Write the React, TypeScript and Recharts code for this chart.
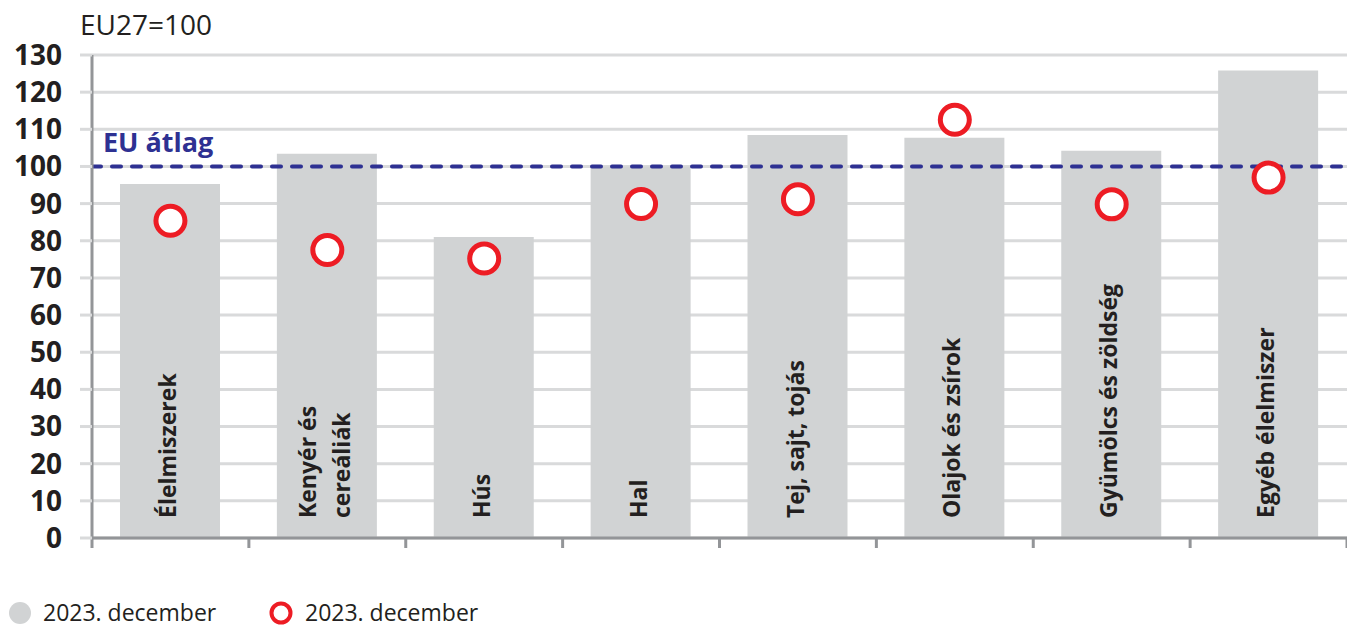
import { ComposedChart, Bar, Scatter, XAxis, YAxis, CartesianGrid, ReferenceLine, LabelList } from 'recharts';

const categories = [
  'Élelmiszerek',
  'Kenyér és\ncereáliák',
  'Hús',
  'Hal',
  'Tej, sajt, tojás',
  'Olajok és zsírok',
  'Gyümölcs és zöldség',
  'Egyéb élelmiszer',
];
const barValues = [95.3, 103.4, 81.0, 100.0, 108.5, 107.7, 104.2, 125.8];
const circleValues = [85.4, 77.5, 75.2, 89.9, 91.2, 112.6, 89.8, 97.0];
const yTicks = [0, 10, 20, 30, 40, 50, 60, 70, 80, 90, 100, 110, 120, 130];
const edgeTicks = [0, 1, 2, 3, 4, 5, 6, 7, 8];
const legendLabels = ['2023. december', '2023. december'];
const unitLabel = 'EU27=100';
const avgLabel = 'EU átlag';

const FONT = '"Open Sans", "Noto Sans", sans-serif';
const TEXT = '#231f20';
const BAR_GREY = '#d1d3d4';
const GRID = '#d9dadb';
const AXIS = '#939598';
const NAVY = '#2e3192';
const RED = '#ed1c24';

// pos = category centre on the 0..8 edge axis (used only for the boundary ticks)
const data = categories.map((name, i) => ({
  name,
  pos: i + 0.5,
  bar: barValues[i],
  circle: circleValues[i],
}));

const CategoryLabel = (props: any) => {
  const { x, y, width, height, value } = props;
  const lines = String(value).split('\n');
  const cx = x + width / 2;
  const bottom = y + height - 20;
  const gap = 34;
  const first = 6 - ((lines.length - 1) * gap) / 2;
  return (
    <text
      transform={`translate(${cx},${bottom}) rotate(-90)`}
      fontFamily={FONT}
      fontSize={23}
      fontWeight={700}
      fill={TEXT}
    >
      {lines.map((l, i) => (
        <tspan key={i} x={0} y={first + i * gap}>
          {l}
        </tspan>
      ))}
    </text>
  );
};

const AvgLabel = (props: any) => {
  const vb = props.viewBox || {};
  return (
    <text x={vb.x + 11} y={vb.y - 14} fontFamily={FONT} fontSize={27} fontWeight={700} fill={NAVY}>
      {avgLabel}
    </text>
  );
};

const Ring = (props: any) => {
  const { cx, cy } = props;
  return <circle cx={cx} cy={cy} r={14.5} fill="#fff" stroke={RED} strokeWidth={5} />;
};

const NoTick = () => <g />;

export default function App() {
  return (
    <div style={{ position: 'absolute', left: 0, top: 0, width: 1347, height: 627, background: '#fff', overflow: 'hidden' }}>
      <div
        style={{
          position: 'absolute',
          left: 80,
          top: 10,
          fontFamily: FONT,
          fontSize: 28,
          lineHeight: '28px',
          color: TEXT,
        }}
      >
        {unitLabel}
      </div>
      <ComposedChart width={1347} height={627} data={data} margin={{ top: 55, right: 0, left: 0, bottom: 0 }}>
        <CartesianGrid xAxisId="edge" vertical={false} stroke={GRID} strokeWidth={3} />
        <XAxis xAxisId="cat" dataKey="name" type="category" height={0} hide />
        <XAxis
          xAxisId="edge"
          dataKey="pos"
          type="number"
          domain={[0, 8]}
          ticks={edgeTicks}
          interval={0}
          allowDataOverflow
          height={89}
          tick={<NoTick />}
          tickSize={10}
          tickLine={{ stroke: AXIS, strokeWidth: 3 }}
          axisLine={{ stroke: AXIS, strokeWidth: 3 }}
        />
        <YAxis
          width={92}
          domain={[0, 130]}
          ticks={yTicks}
          interval={0}
          tickSize={12}
          tickMargin={18}
          tickLine={{ stroke: GRID, strokeWidth: 3 }}
          axisLine={{ stroke: AXIS, strokeWidth: 3 }}
          tick={{ fontFamily: FONT, fontSize: 28, fontWeight: 700, fill: TEXT }}
        />
        <Bar xAxisId="cat" dataKey="bar" fill={BAR_GREY} barSize={100} isAnimationActive={false}>
          <LabelList dataKey="name" content={CategoryLabel} />
        </Bar>
        <ReferenceLine
          xAxisId="edge"
          y={100}
          stroke={NAVY}
          strokeWidth={4}
          strokeDasharray="9 11"
          strokeLinecap="round"
          label={<AvgLabel />}
        />
        <Scatter xAxisId="cat" dataKey="circle" shape={Ring} isAnimationActive={false} />
      </ComposedChart>
      <svg style={{ position: 'absolute', left: 0, top: 594 }} width={520} height={33}>
        <circle cx={20} cy={19} r={11} fill={BAR_GREY} />
        <text x={43} y={27} fontFamily={FONT} fontSize={23} fill={TEXT}>
          {legendLabels[0]}
        </text>
        <circle cx={281} cy={19} r={9.5} fill="#fff" stroke={RED} strokeWidth={4} />
        <text x={305} y={27} fontFamily={FONT} fontSize={23} fill={TEXT}>
          {legendLabels[1]}
        </text>
      </svg>
    </div>
  );
}
